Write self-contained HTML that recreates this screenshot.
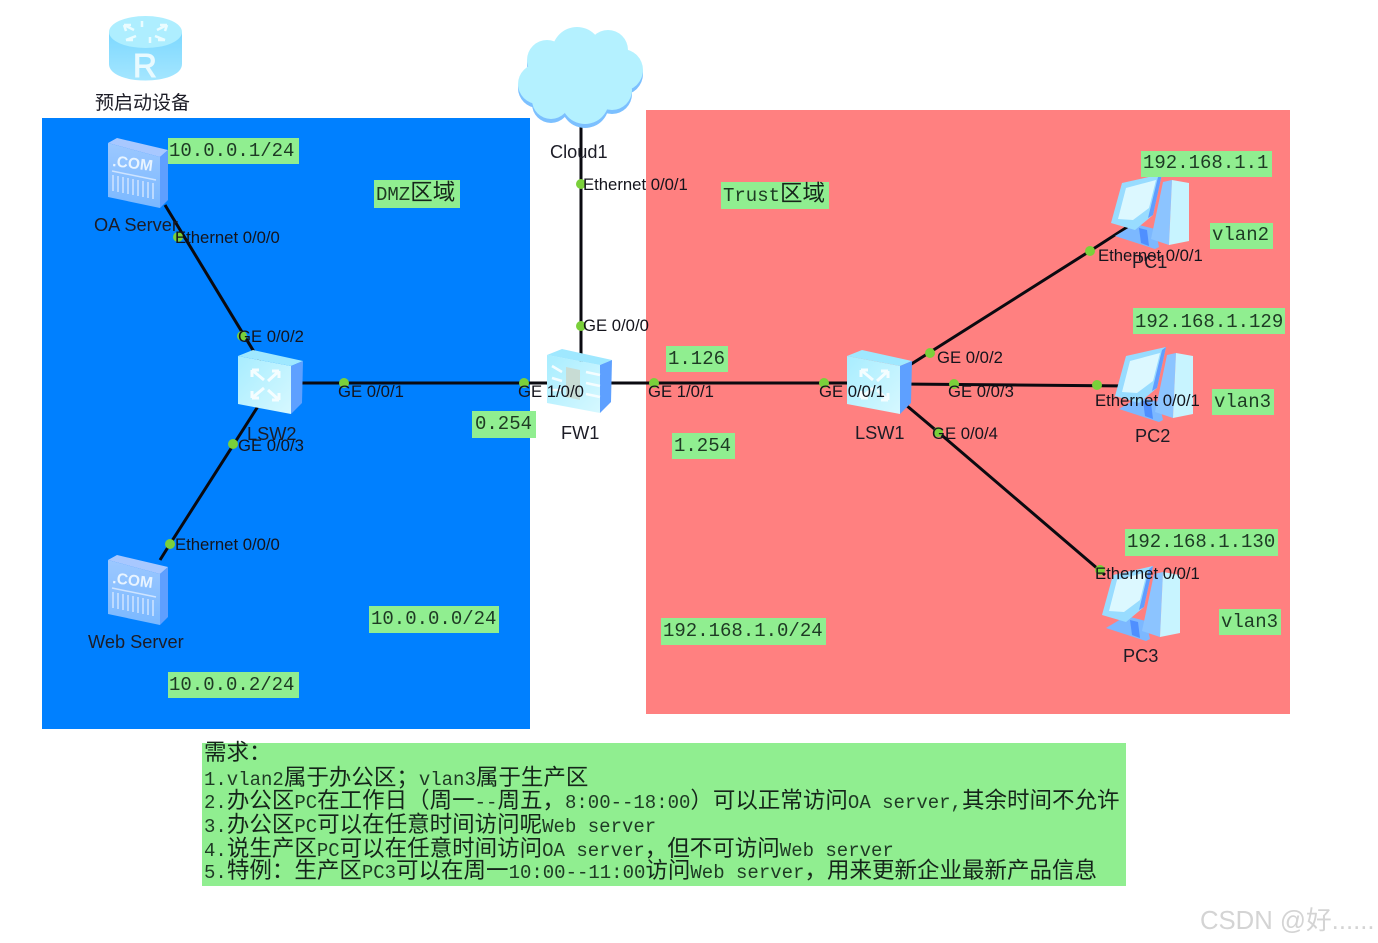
<!DOCTYPE html>
<html><head><meta charset="utf-8"><style>
html,body{margin:0;padding:0;background:#fff;width:1378px;height:943px;overflow:hidden}
svg{display:block;filter:blur(.35px)}
text{font-family:"Liberation Sans","Noto Sans CJK SC",sans-serif;font-size:18.2px;fill:#1c1c26}
.p{font-size:16.7px;fill:#14141c}
.m{font-family:"Liberation Mono","Noto Sans CJK SC",monospace;font-size:19px;fill:#1e3a24}
.b{font-family:"Liberation Mono","WenQuanYi Zen Hei",monospace;font-size:19px;fill:#1e3a24}
.c{font-family:"WenQuanYi Zen Hei","Noto Sans CJK SC",sans-serif;font-size:22.5px;fill:#15251a}
</style></head><body>
<svg width="1378" height="943" viewBox="0 0 1378 943" xmlns="http://www.w3.org/2000/svg">
<defs>
<linearGradient id="g1" x1="0" y1="0" x2="1" y2="1"><stop offset="0" stop-color="#a8edff"/><stop offset="1" stop-color="#d6f8ff"/></linearGradient>
<linearGradient id="g2" x1="0" y1="0" x2="0" y2="1"><stop offset="0" stop-color="#9cc8ff"/><stop offset="1" stop-color="#7ab8ff"/></linearGradient>
<linearGradient id="g3" x1="0" y1="0" x2="0" y2="1"><stop offset="0" stop-color="#7dd8ff"/><stop offset="1" stop-color="#a4e6ff"/></linearGradient>
<g id="srv">
<polygon points="1,6 53,20 53,71 1,60" fill="url(#g2)"/>
<polygon points="1,6 10,1 61,13 53,20" fill="#a8c8ff"/>
<polygon points="53,20 61,13 61,63 53,71" fill="#5f9fff"/>
<text x="5" y="29" transform="rotate(7 5 29)" style="font-weight:bold;font-size:15.5px;fill:#e8f4ff">.COM</text>
<path d="M5 34 L49 43 M6 38V54M11 39V55M16 40V56M21 41V57M26 42V58M31 43V59M36 44V60M41 45V61M46 46V62" stroke="#cfe4ff" stroke-width="1.500" fill="none"/>
</g>
<g id="sw">
<polygon points="1,6 54,16 54,64 1,54" fill="url(#g1)"/>
<polygon points="1,6 16,0 66,11 54,16" fill="#9fe8ff"/>
<polygon points="54,16 66,11 65,53 54,64" fill="#5ea0ff"/>
</g>
<path id="swa" d="M15 20l12 10M15 20h7M15 20v7M42 21l-11 10M42 21h-7M42 21v7M15 48l12-10M15 48h7M15 48v-7M42 50l-11-10M42 50h-7M42 50v-7" stroke="#f4fdff" stroke-width="3" fill="none"/>
<g id="pc">
<polygon points="4,62 24,50 44,55 48,73 44,75" fill="#7cb8ff"/>
<polygon points="28,54 36,56 38,72 30,69" fill="#4f8fff"/>
<polygon points="52,8 61,6 58,71 40,65" fill="#8cc4ff"/>
<polygon points="61,6 78,9 78,67 58,71" fill="#c8f4ff"/>
<polygon points="0,49 11,9 51,0 42,41 24,56" fill="#98dcff"/>
<polygon points="7,45 15,14 45,6 38,34 22,46" fill="#dcf8ff"/>
<polygon points="47,3 51,0 42,41 37,44" fill="#5f9dff"/>
</g>
<g id="cl">
<circle cx="538" cy="84" r="20"/><circle cx="547" cy="60" r="20"/><circle cx="577" cy="52" r="25"/><circle cx="608" cy="50" r="20"/><circle cx="622" cy="70" r="21"/><circle cx="612" cy="90" r="20"/><circle cx="585" cy="100" r="24"/><circle cx="551" cy="100" r="19"/><circle cx="580" cy="75" r="30"/>
</g>
</defs>

<rect x="42" y="118" width="488" height="611" fill="#0080ff"/>
<rect x="646" y="110" width="644" height="604" fill="#ff8080"/>
<rect x="202" y="743" width="924" height="143" fill="#90ee90"/>

<!-- links -->
<g stroke="#0a0a10" stroke-width="3" fill="none">
<path d="M165 205L262 365"/>
<path d="M262 400L170 544L160 560"/>
<path d="M270 383H880"/>
<path d="M581 110V370"/>
<path d="M905 368L1090 251L1135 222"/>
<path d="M900 384L1130 386"/>
<path d="M900 400L938 432L1105 575"/>
</g>

<!-- router -->
<g>
<path d="M109 32V64C109 86 182 86 182 64V32Z" fill="url(#g3)"/>
<ellipse cx="145.500" cy="32" rx="36.500" ry="16" fill="#aeeeff"/>
<path d="M124 25l10 5M124 25h7M124 25l2 6M167 25l-10 5M167 25h-7M167 25l-2 6M126 40l10-4M126 40h7M165 40l-10-4M165 40h-7M142 21v6M150 43v-6" stroke="#eafcff" stroke-width="2.500" fill="none"/>
<text x="133" y="77" style="font-size:33px;fill:#e8faff;stroke:#e8faff;stroke-width:1">R</text>
</g>
<text x="95" y="109" style="font-size:19px">预启动设备</text>

<!-- cloud -->
<use href="#cl" fill="#7cc0ff" y="4"/>
<use href="#cl" fill="#b4f1ff"/>

<use href="#srv" x="107" y="137"/>
<use href="#srv" x="107" y="554"/>
<use href="#sw" x="237" y="350"/><use href="#swa" x="237" y="350"/>
<use href="#sw" x="546" y="349"/>
<path d="M552 366l10 6M552 378l10 3M552 390l10 0M586 372l14 3M586 383l14 3M586 394l14 3" stroke="#f4fdff" stroke-width="2.500" fill="none"/>
<path d="M566 367l14 3v30l-14-3z" fill="#c8dcd4"/>
<use href="#sw" x="846" y="350"/><use href="#swa" x="846" y="350"/>
<use href="#pc" x="1111" y="174"/>
<use href="#pc" x="1115" y="347"/>
<use href="#pc" x="1102" y="566"/>

<!-- dots -->
<g fill="#7ad03a">
<circle cx="178" cy="237" r="5"/><circle cx="242" cy="336" r="5"/><circle cx="344" cy="383" r="5"/><circle cx="524" cy="383" r="5"/><circle cx="233" cy="444" r="5"/><circle cx="170" cy="544" r="5"/><circle cx="581" cy="184" r="5"/><circle cx="581" cy="326" r="5"/><circle cx="654" cy="383" r="5"/><circle cx="824" cy="383" r="5"/><circle cx="930" cy="353" r="5"/><circle cx="954" cy="384" r="5"/><circle cx="938" cy="432" r="5"/><circle cx="1097" cy="385" r="5"/><circle cx="1090" cy="251" r="5"/><circle cx="1100" cy="570" r="5"/>
</g>

<!-- device labels -->
<text x="94" y="231">OA Server</text>
<text x="88" y="648">Web Server</text>
<text x="247" y="440">LSW2</text>
<text x="550" y="158">Cloud1</text>
<text x="561" y="439">FW1</text>
<text x="855" y="439">LSW1</text>
<text x="1132" y="268">PC1</text>
<text x="1135" y="442">PC2</text>
<text x="1123" y="662">PC3</text>

<!-- port labels -->
<text class="p" x="175" y="243">Ethernet 0/0/0</text>
<text class="p" x="238" y="342">GE 0/0/2</text>
<text class="p" x="338" y="397">GE 0/0/1</text>
<text class="p" x="238" y="451">GE 0/0/3</text>
<text class="p" x="175" y="550">Ethernet 0/0/0</text>
<text class="p" x="583" y="190">Ethernet 0/0/1</text>
<text class="p" x="583" y="331">GE 0/0/0</text>
<text class="p" x="518" y="397">GE 1/0/0</text>
<text class="p" x="648" y="397">GE 1/0/1</text>
<text class="p" x="819" y="397">GE 0/0/1</text>
<text class="p" x="937" y="363">GE 0/0/2</text>
<text class="p" x="948" y="397">GE 0/0/3</text>
<text class="p" x="932" y="439">GE 0/0/4</text>
<text class="p" x="1098" y="261">Ethernet 0/0/1</text>
<text class="p" x="1095" y="406">Ethernet 0/0/1</text>
<text class="p" x="1095" y="579">Ethernet 0/0/1</text>

<!-- green labels -->
<g fill="#90ee90">
<rect x="168" y="138" width="131" height="26"/>
<rect x="374" y="180" width="86" height="28"/>
<rect x="721" y="182" width="108" height="27"/>
<rect x="1141" y="151" width="131" height="26"/>
<rect x="1210" y="223" width="63" height="26"/>
<rect x="1133" y="308" width="152" height="26"/>
<rect x="1212" y="389" width="62" height="26"/>
<rect x="666" y="346" width="62" height="26"/>
<rect x="472" y="411" width="64" height="27"/>
<rect x="672" y="433" width="63" height="26"/>
<rect x="1125" y="529" width="153" height="27"/>
<rect x="1219" y="609" width="62" height="26"/>
<rect x="369" y="606" width="130" height="27"/>
<rect x="661" y="618" width="165" height="27"/>
<rect x="168" y="672" width="131" height="26"/>
</g>
<g>
<text class="m" x="169" y="156">10.0.0.1/24</text>
<text class="m" x="376" y="200">DMZ<tspan class="c">区域</tspan></text>
<text class="m" x="723" y="201">Trust<tspan class="c">区域</tspan></text>
<text class="m" x="1143" y="168">192.168.1.1</text>
<text class="m" x="1212" y="240">vlan2</text>
<text class="m" x="1135" y="327">192.168.1.129</text>
<text class="m" x="1214" y="407">vlan3</text>
<text class="m" x="668" y="364">1.126</text>
<text class="m" x="475" y="429">0.254</text>
<text class="m" x="674" y="451">1.254</text>
<text class="m" x="1127" y="547">192.168.1.130</text>
<text class="m" x="1221" y="627">vlan3</text>
<text class="m" x="371" y="624">10.0.0.0/24</text>
<text class="m" x="663" y="636">192.168.1.0/24</text>
<text class="m" x="169" y="690">10.0.0.2/24</text>
</g>

<!-- requirements -->
<text class="b" x="204" y="760"><tspan class="c">需求：</tspan></text>
<text class="b" x="204" y="785">1.vlan2<tspan class="c">属于办公区；</tspan>vlan3<tspan class="c">属于生产区</tspan></text>
<text class="b" x="204" y="808">2.<tspan class="c">办公区</tspan>PC<tspan class="c">在工作日（周一</tspan>--<tspan class="c">周五，</tspan>8:00--18:00<tspan class="c">）可以正常访问</tspan>OA server,<tspan class="c">其余时间不允许</tspan></text>
<text class="b" x="204" y="832">3.<tspan class="c">办公区</tspan>PC<tspan class="c">可以在任意时间访问呢</tspan>Web server</text>
<text class="b" x="204" y="856">4.<tspan class="c">说生产区</tspan>PC<tspan class="c">可以在任意时间访问</tspan>OA server<tspan class="c">，但不可访问</tspan>Web server</text>
<text class="b" x="204" y="878">5.<tspan class="c">特例：生产区</tspan>PC3<tspan class="c">可以在周一</tspan>10:00--11:00<tspan class="c">访问</tspan>Web server<tspan class="c">，用来更新企业最新产品信息</tspan></text>

<text x="1200" y="929" style="font-size:25.7px;fill:#d4d4d4">CSDN @好......</text>
</svg>
</body></html>
